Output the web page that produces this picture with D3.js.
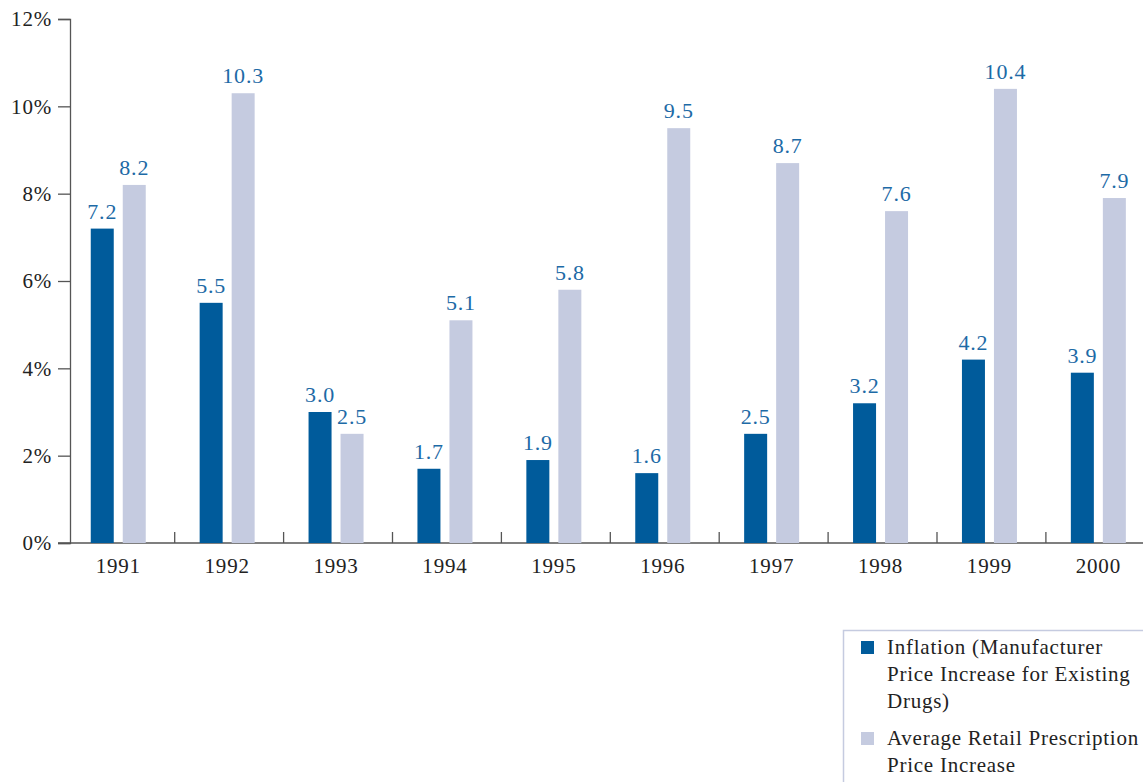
<!DOCTYPE html>
<html>
<head>
<meta charset="utf-8">
<script src="https://cdn.jsdelivr.net/npm/d3@7"></script>
<style>
  html, body { margin: 0; padding: 0; background: #fff; }
  svg { display: block; }
  text { font-family: "Liberation Serif", "DejaVu Serif", serif; }
</style>
</head>
<body>
<svg id="chart" width="1143" height="782"></svg>
<script>
// Annual price increases, in percent
const years = ["1991","1992","1993","1994","1995","1996","1997","1998","1999","2000"];
const inflation = [7.2, 5.5, 3.0, 1.7, 1.9, 1.6, 2.5, 3.2, 4.2, 3.9];
const retail = [8.2, 10.3, 2.5, 5.1, 5.8, 9.5, 8.7, 7.6, 10.4, 7.9];
const yTicks = [0, 2, 4, 6, 8, 10, 12];
const seriesNames = [
  ["Inflation (Manufacturer", "Price Increase for Existing", "Drugs)"],
  ["Average Retail Prescription", "Price Increase"]
];
const colors = ["#005b9b", "#c5cbe0"];
const labelColor = "#1d6aa6";

const svg = d3.select("#chart");

const axisLeft = 70, axisBottom = 543, axisTop = 19;
const bandStart = 65.8, bandWidth = 108.9;

const x = d3.scaleBand()
  .domain(years)
  .range([bandStart, bandStart + bandWidth * years.length])
  .padding(0);

const y = d3.scaleLinear().domain([0, 12]).range([axisBottom, axisTop]);

const barW = 23, gap = 9;
// sub-band for each series within a year group
const sub = d3.scaleBand().domain([0, 1]).range([-(barW + gap / 2), barW + gap / 2]).paddingInner(gap / (barW + gap));

const groupCenter = yr => x(yr) + x.bandwidth() / 2 - 2;

// y axis
const yAxis = d3.axisLeft(y)
  .tickValues(yTicks)
  .tickFormat(d => d + "%")
  .tickSize(12)
  .tickPadding(6);

const gy = svg.append("g").attr("transform", `translate(${axisLeft},0)`).call(yAxis);
gy.select(".domain").attr("stroke", "#555").attr("stroke-width", 1.3);
gy.selectAll(".tick line").attr("stroke", "#555").attr("stroke-width", 1.3);
gy.selectAll(".tick text")
  .attr("fill", "#222")
  .style("font-size", "21px")
  .style("letter-spacing", "0.8px")
  .style("font-family", "'Liberation Serif', serif");

// x axis baseline and group separators
svg.append("line")
  .attr("x1", 58).attr("x2", 1143)
  .attr("y1", axisBottom).attr("y2", axisBottom)
  .attr("stroke", "#555").attr("stroke-width", 1.3);

svg.append("g").selectAll("line")
  .data(years.slice(1))
  .join("line")
  .attr("x1", d => x(d)).attr("x2", d => x(d))
  .attr("y1", axisBottom).attr("y2", axisBottom - 11)
  .attr("stroke", "#555").attr("stroke-width", 1.3);

// year labels
svg.append("g").selectAll("text")
  .data(years)
  .join("text")
  .attr("x", d => groupCenter(d))
  .attr("y", axisBottom + 30)
  .attr("text-anchor", "middle")
  .attr("fill", "#222")
  .style("font-size", "21px")
  .style("letter-spacing", "0.8px")
  .text(d => d);

// bars and value labels
const series = [inflation, retail];
series.forEach((vals, si) => {
  const g = svg.append("g");
  g.selectAll("rect")
    .data(years)
    .join("rect")
    .attr("x", (d, i) => groupCenter(d) + sub(si))
    .attr("width", sub.bandwidth())
    .attr("y", (d, i) => y(vals[i]))
    .attr("height", (d, i) => y(0) - y(vals[i]))
    .attr("fill", colors[si]);

  g.selectAll("text")
    .data(years)
    .join("text")
    .attr("x", (d, i) => groupCenter(d) + sub(si) + sub.bandwidth() / 2)
    .attr("y", (d, i) => y(vals[i]) - 10)
    .attr("text-anchor", "middle")
    .attr("fill", labelColor)
    .style("font-size", "22px")
    .style("letter-spacing", "0.8px")
    .text((d, i) => vals[i].toFixed(1));
});

// legend
const legend = svg.append("g");
legend.append("rect")
  .attr("x", 843.5).attr("y", 630.5)
  .attr("width", 320).attr("height", 170)
  .attr("fill", "none")
  .attr("stroke", "#c5cbe0").attr("stroke-width", 1.5);

const entryTop = [641, 732];
const lineH = 27;
seriesNames.forEach((lines, si) => {
  legend.append("rect")
    .attr("x", 861).attr("y", entryTop[si])
    .attr("width", 13).attr("height", 13)
    .attr("fill", colors[si]);
  legend.append("text")
    .attr("x", 887)
    .attr("y", entryTop[si] + 13)
    .attr("fill", "#222")
    .style("font-size", "21px")
    .style("letter-spacing", "0.75px")
    .selectAll("tspan")
    .data(lines)
    .join("tspan")
    .attr("x", 887)
    .attr("dy", (d, i) => i === 0 ? 0 : lineH)
    .text(d => d);
});
</script>
</body>
</html>
